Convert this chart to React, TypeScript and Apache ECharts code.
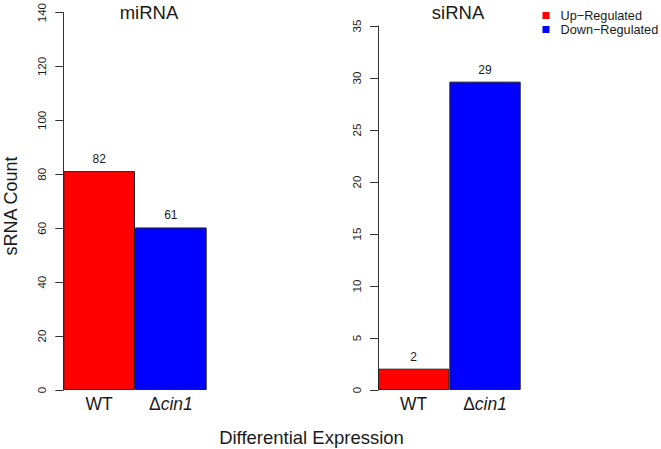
import React, { useEffect, useRef } from "react";
import * as echarts from "echarts";

const categories = ["WT", "Δcin1"];
const regulation = ["Up−Regulated", "Down−Regulated"];
const regulationColors = ["#FF0000", "#0000FF"];

const mirnaValues = [81.2, 60.3];
const mirnaLabels = ["82", "61"];
const sirnaValues = [2.05, 29.65];
const sirnaLabels = ["2", "29"];

const mirnaTicks = { min: 0, max: 140, interval: 20 };
const sirnaTicks = { min: 0, max: 35, interval: 5 };

const FONT = "'Liberation Sans', Arial, Helvetica, sans-serif";
const INK = "#1a1a1a";

function panelSeries(gridIndex: number, values: number[], labels: string[]) {
  return regulation.map((name, r) => ({
    name,
    type: "bar",
    xAxisIndex: gridIndex,
    yAxisIndex: gridIndex,
    stack: "panel" + gridIndex,
    barWidth: "100%",
    barCategoryGap: "0%",
    data: values.map((v, i) => (i === r ? v : "-")),
    itemStyle: { color: regulationColors[r], borderColor: "#222", borderWidth: 1 },
    label: {
      show: true,
      position: "top",
      distance: 6,
      fontFamily: FONT,
      fontSize: 12,
      color: INK,
      formatter: (p: any) => labels[p.dataIndex],
    },
  }));
}

const xLabelStyle = { fontFamily: FONT, fontSize: 17.5, color: INK, fontWeight: "normal" };

function xAxis(gridIndex: number) {
  return {
    type: "category",
    gridIndex,
    data: categories,
    axisLine: { show: false },
    axisTick: { show: false },
    axisLabel: {
      interval: 0,
      margin: 5,
      ...xLabelStyle,
      formatter: (v: string) => (v.startsWith("Δ") ? `{d|Δ}{i|${v.slice(1)}}` : `{n|${v}}`),
      rich: {
        n: { ...xLabelStyle },
        d: { ...xLabelStyle },
        i: { ...xLabelStyle, fontStyle: "italic" },
      },
    },
  };
}

function yAxis(gridIndex: number, t: { min: number; max: number; interval: number }) {
  return {
    type: "value",
    gridIndex,
    min: t.min,
    max: t.max,
    interval: t.interval,
    splitLine: { show: false },
    axisLine: { show: true, lineStyle: { color: "#333", width: 1 } },
    axisTick: { show: true, length: 8, lineStyle: { color: "#333", width: 1 } },
    axisLabel: {
      rotate: 90,
      align: "center",
      verticalAlign: "bottom",
      margin: 15,
      fontFamily: FONT,
      fontSize: 11.5,
      color: INK,
    },
  };
}

export default function App() {
  const ref = useRef<HTMLDivElement>(null);
  useEffect(() => {
    if (!ref.current) return;
    const chart = echarts.init(ref.current, null, { renderer: "svg" });
    chart.setOption({
      animation: false,
      backgroundColor: "#ffffff",
      textStyle: { fontFamily: FONT },
      legend: {
        orient: "vertical",
        left: 537.5,
        top: 4,
        icon: "path://M0,0H10V10H0Z",
        symbolKeepAspect: true,
        itemWidth: 19,
        itemHeight: 7,
        itemGap: 1,
        selectedMode: false,
        data: regulation,
        itemStyle: { borderWidth: 0 },
        textStyle: { fontFamily: FONT, fontSize: 12.7, color: INK },
      },
      grid: [
        { left: 63.3, top: 10.6, width: 143.4, bottom: 59 },
        { left: 378, top: 26, width: 142.7, bottom: 59 },
      ],
      xAxis: [xAxis(0), xAxis(1)],
      yAxis: [yAxis(0, mirnaTicks), yAxis(1, sirnaTicks)],
      series: [...panelSeries(0, mirnaValues, mirnaLabels), ...panelSeries(1, sirnaValues, sirnaLabels)],
      graphic: [
        {
          type: "text",
          x: 149,
          y: 12.5,
          style: { text: "miRNA", font: `18.5px ${FONT}`, fill: INK, align: "center", verticalAlign: "middle" },
        },
        {
          type: "text",
          x: 458,
          y: 12,
          style: { text: "siRNA", font: `18.5px ${FONT}`, fill: INK, align: "center", verticalAlign: "middle" },
        },
        {
          type: "text",
          x: 11,
          y: 206,
          rotation: Math.PI / 2,
          style: { text: "sRNA Count", font: `18px ${FONT}`, fill: INK, align: "center", verticalAlign: "middle" },
        },
        {
          type: "text",
          x: 311.5,
          y: 437,
          style: {
            text: "Differential Expression",
            font: `18.5px ${FONT}`,
            fill: INK,
            align: "center",
            verticalAlign: "middle",
          },
        },
      ],
    });
    return () => chart.dispose();
  }, []);
  return <div ref={ref} style={{ width: 661, height: 449, position: "absolute", left: 0, top: 0 }} />;
}
